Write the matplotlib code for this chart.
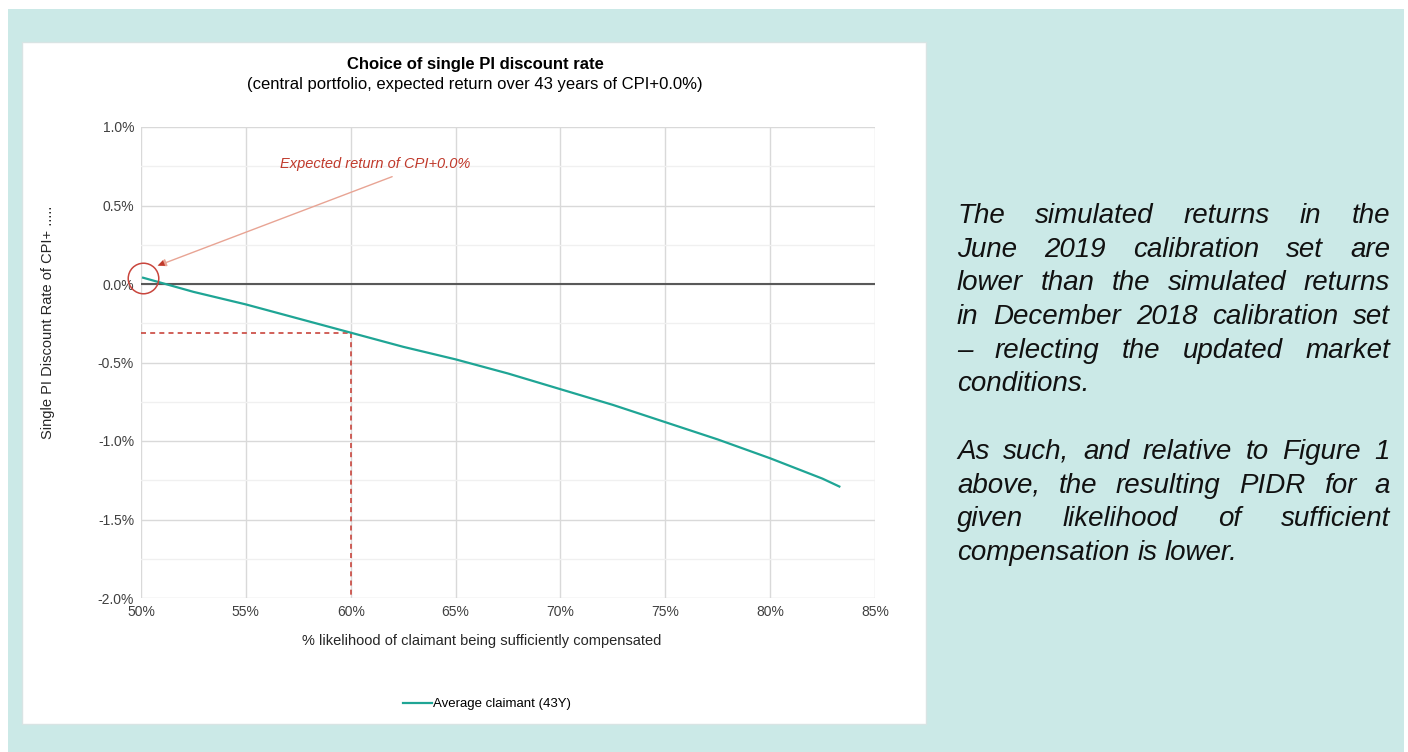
import matplotlib.pyplot as plt
from matplotlib.patches import Rectangle
from matplotlib.ticker import MultipleLocator, FuncFormatter

plt.rcParams['font.family'] = ['Liberation Sans', 'DejaVu Sans']

# curve: likelihood (%) vs single PI discount rate (% over CPI)
likelihood = [50.1, 52.5, 55.0, 57.5, 60.0, 62.5, 65.0, 67.5, 70.0, 72.5, 75.0, 77.5, 80.0, 82.5, 83.3]
pidr = [0.04, -0.05, -0.13, -0.22, -0.31, -0.40, -0.48, -0.57, -0.67, -0.77, -0.88, -0.99, -1.11, -1.24, -1.29]
series_name = 'Average claimant (43Y)'

chosen_x = 60.0
chosen_y = -0.31

title = 'Choice of single PI discount rate'
subtitle = '(central portfolio, expected return over 43 years of CPI+0.0%)'
xlabel = '% likelihood of claimant being sufficiently compensated'
ylabel = 'Single PI Discount Rate of CPI+ .....'
note = 'Expected return of CPI+0.0%'

paragraphs = [
    ['The simulated returns in the',
     'June 2019  calibration set are',
     'lower than the simulated returns',
     'in December 2018 calibration set',
     '\u2013 relecting the updated market',
     'conditions.'],
    ['As such, and relative to Figure 1',
     'above, the resulting PIDR for a',
     'given likelihood of sufficient',
     'compensation is lower.'],
]

W, H = 1408, 752
fig = plt.figure(figsize=(W / 100, H / 100), dpi=100)
fig.patch.set_facecolor('white')

bg = '#cbe9e7'
fig.patches.append(Rectangle((8 / W, 0), 1396 / W, 743 / H, transform=fig.transFigure,
                             facecolor=bg, edgecolor='none', zorder=-3))
fig.patches.append(Rectangle((22 / W, 1 - 724 / H), 904 / W, 682 / H, transform=fig.transFigure,
                             facecolor='white', edgecolor='#d8e4e4', linewidth=1, zorder=-2))

ax = fig.add_axes([141 / W, 1 - 598 / H, (875 - 141) / W, (598 - 127) / H])
ax.set_facecolor('white')
ax.set_xlim(50, 85)
ax.set_ylim(-2.0, 1.0)
ax.xaxis.set_major_locator(MultipleLocator(5))
ax.yaxis.set_major_locator(MultipleLocator(0.5))
ax.yaxis.set_minor_locator(MultipleLocator(0.25))
ax.xaxis.set_major_formatter(FuncFormatter(lambda v, p: f'{v:.0f}%'))
ax.yaxis.set_major_formatter(FuncFormatter(lambda v, p: f'{v:.1f}%'))
ax.grid(which='major', color='#d9d9d9', linewidth=1)
ax.grid(which='minor', axis='y', color='#f0f0f0', linewidth=1)
ax.set_axisbelow(True)
for s in ax.spines.values():
    s.set_visible(False)
ax.tick_params(which='both', length=0, labelsize=10, colors='#404040')
ax.tick_params(axis='y', pad=5)
ax.tick_params(axis='x', pad=5)
ax.axhline(0, color='#595959', linewidth=1.5, zorder=2)

# dashed guide lines at the chosen likelihood
dash = dict(color='#c9463d', linewidth=1.2, linestyle=(0, (3, 2.5)), zorder=3)
ax.plot([50, chosen_x], [chosen_y, chosen_y], **dash)
ax.plot([chosen_x, chosen_x], [chosen_y, -2.0], **dash)

line, = ax.plot(likelihood, pidr, color='#1fa595', linewidth=1.6, zorder=4, label=series_name)

# circle + arrow pointing at the start of the curve
ax.plot([likelihood[0]], [pidr[0]], marker='o', markersize=22,
        markerfacecolor='none', markeredgecolor='#c9463d', markeredgewidth=1.1,
        clip_on=False, zorder=5)
ax.annotate('', xy=(50.67, 0.11), xytext=(62.1, 0.69),
            arrowprops=dict(arrowstyle='-|>,head_length=0.5,head_width=0.22',
                            color='#e8a494', lw=1.0), zorder=5)
ax.annotate('', xy=(50.67, 0.11), xytext=(51.3, 0.145),
            arrowprops=dict(arrowstyle='-|>,head_length=0.5,head_width=0.22',
                            color='#c0392b', lw=0.0), zorder=6)
ax.text(61.16, 0.764, note, color='#c0392b', fontsize=10.5,
        style='italic', ha='center', va='center')

fig.text(475 / W, 1 - 65 / H, title, ha='center', va='center', fontsize=12, fontweight='bold')
fig.text(475 / W, 1 - 85 / H, subtitle, ha='center', va='center', fontsize=12)
fig.text(482 / W, 1 - 641 / H, xlabel, ha='center', va='center', fontsize=10.5, color='#262626')
fig.text(48 / W, 1 - 322 / H, ylabel, ha='center', va='center', rotation=90,
         fontsize=10.5, color='#262626')

fig.legend(handles=[line], loc='center', bbox_to_anchor=(487 / W, 1 - 704 / H), frameon=False,
           fontsize=9.5, handlelength=2.2, handletextpad=0.1)

# justified italic text on the right
renderer = fig.canvas.get_renderer()
fs = 20
left, right = 957, 1390
y = 216
step = 33.7


def text_width(s):
    t = fig.text(0, 0, s, fontsize=fs, style='italic')
    w = t.get_window_extent(renderer).width
    t.remove()
    return w


space = text_width('a b') - text_width('ab')
for para in paragraphs:
    for i, ln in enumerate(para):
        words = ln.split()
        arts = [fig.text(0, 1 - y / H, w, fontsize=fs, style='italic', va='center',
                         ha='left', color='#111111') for w in words]
        widths = [a.get_window_extent(renderer).width for a in arts]
        if i == len(para) - 1 or len(words) == 1:
            gap = space
        else:
            gap = (right - left - sum(widths)) / (len(words) - 1)
        xpos = left
        for a, wd in zip(arts, widths):
            a.set_x(xpos / W)
            xpos += wd + gap
        y += step
    y += step

fig.savefig('out.png', dpi=100)
